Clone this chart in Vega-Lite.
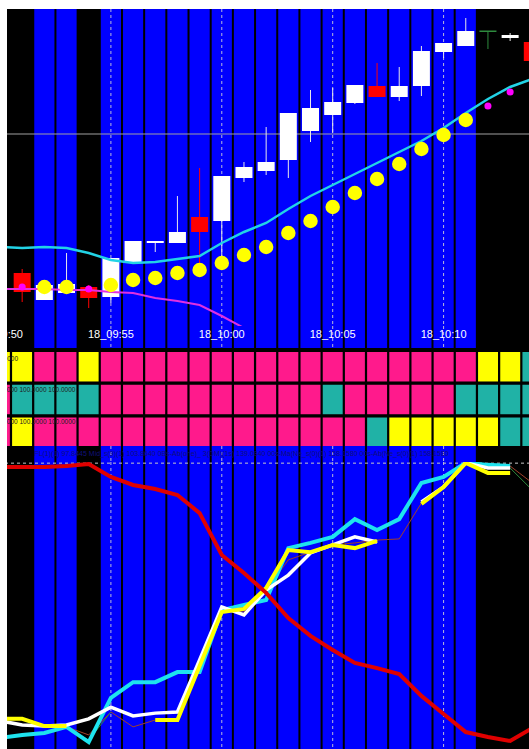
{
  "$schema": "https://vega.github.io/schema/vega-lite/v6.json",
  "background": "white",
  "padding": {"left": 6, "top": 9, "right": 0, "bottom": 0},
  "spacing": 0,
  "resolve": {"scale": {"color": "independent", "size": "independent"}},
  "config": {
    "view": {"stroke": null, "fill": "#000000"},
    "axis": {"disable": true},
    "legend": {"disable": true},
    "text": {"font": "Liberation Sans"}
  },
  "datasets": {
    "cols": [
      {"t":0,"bg":"black"},{"t":1,"bg":"black"},{"t":2,"bg":"blue"},{"t":3,"bg":"blue"},{"t":4,"bg":"black"},
      {"t":5,"bg":"blue"},{"t":6,"bg":"blue"},{"t":7,"bg":"blue"},{"t":8,"bg":"blue"},{"t":9,"bg":"blue"},
      {"t":10,"bg":"blue"},{"t":11,"bg":"blue"},{"t":12,"bg":"blue"},{"t":13,"bg":"blue"},{"t":14,"bg":"blue"},
      {"t":15,"bg":"blue"},{"t":16,"bg":"blue"},{"t":17,"bg":"blue"},{"t":18,"bg":"blue"},{"t":19,"bg":"blue"},
      {"t":20,"bg":"blue"},{"t":21,"bg":"blue"},{"t":22,"bg":"black"},{"t":23,"bg":"black"},{"t":24,"bg":"black"}
    ],
    "vlines": [{"t":5},{"t":10},{"t":15},{"t":20}],
    "labels": [
      {"t":0,"label":"18_09:50"},{"t":5,"label":"18_09:55"},{"t":10,"label":"18_10:00"},
      {"t":15,"label":"18_10:05"},{"t":20,"label":"18_10:10"}
    ],
    "candles": [
      {"t":1,"o":53,"h":57,"l":24,"c":34,"d":"down"},
      {"t":2,"o":26,"h":41,"l":26,"c":41,"d":"up"},
      {"t":3,"o":33,"h":73,"l":33,"c":42,"d":"up"},
      {"t":4,"o":39,"h":41,"l":18,"c":28,"d":"down"},
      {"t":5,"o":29,"h":68,"l":23,"c":68,"d":"up"},
      {"t":6,"o":64,"h":85,"l":64,"c":85,"d":"up"},
      {"t":7,"o":83,"h":85,"l":74,"c":85,"d":"up"},
      {"t":8,"o":83,"h":130,"l":83,"c":94,"d":"up"},
      {"t":9,"o":109,"h":158,"l":59,"c":94,"d":"down"},
      {"t":10,"o":105,"h":150,"l":69,"c":150,"d":"up"},
      {"t":11,"o":148,"h":164,"l":144,"c":159,"d":"up"},
      {"t":12,"o":155,"h":199,"l":151,"c":164,"d":"up"},
      {"t":13,"o":166,"h":213,"l":148,"c":213,"d":"up"},
      {"t":14,"o":195,"h":236,"l":184,"c":218,"d":"up"},
      {"t":15,"o":211,"h":238,"l":193,"c":224,"d":"up"},
      {"t":16,"o":223,"h":241,"l":222,"c":241,"d":"up"},
      {"t":17,"o":240,"h":263,"l":229,"c":229,"d":"down"},
      {"t":18,"o":229,"h":259,"l":225,"c":240,"d":"up"},
      {"t":19,"o":240,"h":280,"l":230,"c":275,"d":"up"},
      {"t":20,"o":274,"h":283,"l":268,"c":283,"d":"up"},
      {"t":21,"o":280,"h":308,"l":280,"c":295,"d":"up"},
      {"t":22,"o":294,"h":294,"l":277,"c":295.5,"d":"doji"},
      {"t":23,"o":288,"h":293,"l":285,"c":291,"d":"up"},
      {"t":24,"o":284,"h":284,"l":265,"c":265,"d":"down"}
    ],
    "dots": [
      {"t":1,"v":39,"k":"m"},{"t":2,"v":39,"k":"y"},{"t":3,"v":39,"k":"y"},{"t":4,"v":37,"k":"m"},
      {"t":5,"v":41,"k":"y"},{"t":6,"v":46,"k":"y"},{"t":7,"v":48,"k":"y"},{"t":8,"v":53,"k":"y"},
      {"t":9,"v":56,"k":"y"},{"t":10,"v":63,"k":"y"},{"t":11,"v":71,"k":"y"},{"t":12,"v":79,"k":"y"},
      {"t":13,"v":93,"k":"y"},{"t":14,"v":105,"k":"y"},{"t":15,"v":119,"k":"y"},{"t":16,"v":133,"k":"y"},
      {"t":17,"v":147,"k":"y"},{"t":18,"v":162,"k":"y"},{"t":19,"v":177,"k":"y"},{"t":20,"v":191,"k":"y"},
      {"t":21,"v":206,"k":"y"},{"t":22,"v":220,"k":"m"},{"t":23,"v":234,"k":"m"}
    ],
    "ma": [
      {"t":0,"v":79,"s":"fast"},{"t":1,"v":78,"s":"fast"},{"t":2,"v":79,"s":"fast"},{"t":3,"v":78,"s":"fast"},
      {"t":4,"v":73,"s":"fast"},{"t":5,"v":66,"s":"fast"},{"t":6,"v":63,"s":"fast"},{"t":7,"v":64,"s":"fast"},
      {"t":8,"v":67,"s":"fast"},{"t":9,"v":70,"s":"fast"},{"t":10,"v":83,"s":"fast"},{"t":11,"v":94,"s":"fast"},
      {"t":12,"v":103,"s":"fast"},{"t":13,"v":117,"s":"fast"},{"t":14,"v":130,"s":"fast"},{"t":15,"v":141,"s":"fast"},
      {"t":16,"v":152,"s":"fast"},{"t":17,"v":163,"s":"fast"},{"t":18,"v":174,"s":"fast"},{"t":19,"v":185,"s":"fast"},
      {"t":20,"v":198,"s":"fast"},{"t":21,"v":213,"s":"fast"},{"t":22,"v":227,"s":"fast"},{"t":23,"v":239,"s":"fast"},
      {"t":24,"v":247,"s":"fast"},
      {"t":0,"v":37,"s":"slow"},{"t":1,"v":37,"s":"slow"},{"t":2,"v":37,"s":"slow"},{"t":3,"v":36,"s":"slow"},
      {"t":4,"v":36,"s":"slow"},{"t":5,"v":34,"s":"slow"},{"t":6,"v":33,"s":"slow"},{"t":7,"v":28,"s":"slow"},
      {"t":8,"v":25,"s":"slow"},{"t":9,"v":21,"s":"slow"},{"t":10,"v":10,"s":"slow"},{"t":11,"v":-2,"s":"slow"},
      {"t":12,"v":-14,"s":"slow"}
    ],
    "grid": [
      {"t":0,"r":"r1","k":"Y"},{"t":1,"r":"r1","k":"Y"},{"t":2,"r":"r1","k":"P"},{"t":3,"r":"r1","k":"P"},{"t":4,"r":"r1","k":"Y"},
      {"t":5,"r":"r1","k":"P"},{"t":6,"r":"r1","k":"P"},{"t":7,"r":"r1","k":"P"},{"t":8,"r":"r1","k":"P"},{"t":9,"r":"r1","k":"P"},
      {"t":10,"r":"r1","k":"P"},{"t":11,"r":"r1","k":"P"},{"t":12,"r":"r1","k":"P"},{"t":13,"r":"r1","k":"P"},{"t":14,"r":"r1","k":"P"},
      {"t":15,"r":"r1","k":"P"},{"t":16,"r":"r1","k":"P"},{"t":17,"r":"r1","k":"P"},{"t":18,"r":"r1","k":"P"},{"t":19,"r":"r1","k":"P"},
      {"t":20,"r":"r1","k":"P"},{"t":21,"r":"r1","k":"P"},{"t":22,"r":"r1","k":"Y"},{"t":23,"r":"r1","k":"Y"},{"t":24,"r":"r1","k":"T"},
      {"t":0,"r":"r2","k":"P"},{"t":1,"r":"r2","k":"T"},{"t":2,"r":"r2","k":"T"},{"t":3,"r":"r2","k":"T"},{"t":4,"r":"r2","k":"T"},
      {"t":5,"r":"r2","k":"P"},{"t":6,"r":"r2","k":"P"},{"t":7,"r":"r2","k":"P"},{"t":8,"r":"r2","k":"P"},{"t":9,"r":"r2","k":"P"},
      {"t":10,"r":"r2","k":"P"},{"t":11,"r":"r2","k":"P"},{"t":12,"r":"r2","k":"P"},{"t":13,"r":"r2","k":"P"},{"t":14,"r":"r2","k":"P"},
      {"t":15,"r":"r2","k":"T"},{"t":16,"r":"r2","k":"P"},{"t":17,"r":"r2","k":"P"},{"t":18,"r":"r2","k":"P"},{"t":19,"r":"r2","k":"P"},
      {"t":20,"r":"r2","k":"P"},{"t":21,"r":"r2","k":"T"},{"t":22,"r":"r2","k":"T"},{"t":23,"r":"r2","k":"T"},{"t":24,"r":"r2","k":"T"},
      {"t":0,"r":"r3","k":"P"},{"t":1,"r":"r3","k":"Y"},{"t":2,"r":"r3","k":"P"},{"t":3,"r":"r3","k":"P"},{"t":4,"r":"r3","k":"P"},
      {"t":5,"r":"r3","k":"P"},{"t":6,"r":"r3","k":"P"},{"t":7,"r":"r3","k":"P"},{"t":8,"r":"r3","k":"P"},{"t":9,"r":"r3","k":"P"},
      {"t":10,"r":"r3","k":"P"},{"t":11,"r":"r3","k":"P"},{"t":12,"r":"r3","k":"P"},{"t":13,"r":"r3","k":"P"},{"t":14,"r":"r3","k":"P"},
      {"t":15,"r":"r3","k":"P"},{"t":16,"r":"r3","k":"P"},{"t":17,"r":"r3","k":"T"},{"t":18,"r":"r3","k":"Y"},{"t":19,"r":"r3","k":"Y"},
      {"t":20,"r":"r3","k":"Y"},{"t":21,"r":"r3","k":"Y"},{"t":22,"r":"r3","k":"Y"},{"t":23,"r":"r3","k":"T"},{"t":24,"r":"r3","k":"T"}
    ],
    "osc": [
      {"t":0,"v":98.3,"s":"red","g":"r"},{"t":1,"v":98.3,"s":"red","g":"r"},{"t":2,"v":98.3,"s":"red","g":"r"},{"t":3,"v":98.6,"s":"red","g":"r"},
      {"t":4,"v":99.3,"s":"red","g":"r"},{"t":5,"v":94.8,"s":"red","g":"r"},{"t":6,"v":92.0,"s":"red","g":"r"},{"t":7,"v":90.6,"s":"red","g":"r"},
      {"t":8,"v":88.5,"s":"red","g":"r"},{"t":9,"v":82.2,"s":"red","g":"r"},{"t":10,"v":67.6,"s":"red","g":"r"},{"t":11,"v":61.3,"s":"red","g":"r"},
      {"t":12,"v":54.4,"s":"red","g":"r"},{"t":13,"v":45.6,"s":"red","g":"r"},{"t":14,"v":39.4,"s":"red","g":"r"},{"t":15,"v":34.5,"s":"red","g":"r"},
      {"t":16,"v":30.0,"s":"red","g":"r"},{"t":17,"v":28.2,"s":"red","g":"r"},{"t":18,"v":26.1,"s":"red","g":"r"},{"t":19,"v":18.5,"s":"red","g":"r"},
      {"t":20,"v":12.2,"s":"red","g":"r"},{"t":21,"v":5.9,"s":"red","g":"r"},{"t":22,"v":4.2,"s":"red","g":"r"},{"t":23,"v":2.8,"s":"red","g":"r"},
      {"t":24,"v":7.3,"s":"red","g":"r"},

      {"t":0,"v":3.8,"s":"cyan","g":"c"},{"t":1,"v":4.9,"s":"cyan","g":"c"},{"t":2,"v":5.6,"s":"cyan","g":"c"},{"t":3,"v":7.7,"s":"cyan","g":"c"},
      {"t":4,"v":2.4,"s":"cyan","g":"c"},{"t":5,"v":17.8,"s":"cyan","g":"c"},{"t":6,"v":23.3,"s":"cyan","g":"c"},{"t":7,"v":23.3,"s":"cyan","g":"c"},
      {"t":8,"v":26.8,"s":"cyan","g":"c"},{"t":9,"v":26.8,"s":"cyan","g":"c"},{"t":10,"v":48.4,"s":"cyan","g":"c"},{"t":11,"v":50.2,"s":"cyan","g":"c"},
      {"t":12,"v":51.9,"s":"cyan","g":"c"},{"t":13,"v":70.0,"s":"cyan","g":"c"},{"t":14,"v":71.8,"s":"cyan","g":"c"},{"t":15,"v":73.9,"s":"cyan","g":"c"},
      {"t":16,"v":80.1,"s":"cyan","g":"c"},{"t":17,"v":76.3,"s":"cyan","g":"c"},{"t":18,"v":80.1,"s":"cyan","g":"c"},{"t":19,"v":92.7,"s":"cyan","g":"c"},
      {"t":20,"v":94.8,"s":"cyan","g":"c"},{"t":21,"v":99.7,"s":"cyan","g":"c"},{"t":22,"v":99.0,"s":"cyan","g":"c"},{"t":23,"v":98.6,"s":"cyan","g":"c"},

      {"t":0,"v":9.8,"s":"white","g":"w1"},{"t":1,"v":8.4,"s":"white","g":"w1"},{"t":2,"v":8.0,"s":"white","g":"w1"},{"t":3,"v":8.4,"s":"white","g":"w1"},
      {"t":4,"v":10.5,"s":"white","g":"w1"},{"t":5,"v":14.6,"s":"white","g":"w1"},{"t":6,"v":11.5,"s":"white","g":"w1"},{"t":7,"v":12.5,"s":"white","g":"w1"},
      {"t":8,"v":12.9,"s":"white","g":"w1"},{"t":9,"v":31.0,"s":"white","g":"w1"},{"t":10,"v":49.5,"s":"white","g":"w1"},{"t":11,"v":46.7,"s":"white","g":"w1"},
      {"t":12,"v":55.4,"s":"white","g":"w1"},{"t":13,"v":60.6,"s":"white","g":"w1"},{"t":14,"v":68.3,"s":"white","g":"w1"},{"t":15,"v":71.1,"s":"white","g":"w1"},
      {"t":16,"v":73.9,"s":"white","g":"w1"},{"t":17,"v":72.1,"s":"white","g":"w1"},
      {"t":19,"v":86.1,"s":"white","g":"w2"},{"t":20,"v":91.3,"s":"white","g":"w2"},{"t":21,"v":99.7,"s":"white","g":"w2"},{"t":22,"v":97.9,"s":"white","g":"w2"},
      {"t":23,"v":97.9,"s":"white","g":"w2"},

      {"t":0,"v":10.5,"s":"yellow","g":"y1"},{"t":1,"v":10.5,"s":"yellow","g":"y1"},{"t":2,"v":8.0,"s":"yellow","g":"y1"},{"t":3,"v":8.0,"s":"yellow","g":"y1"},
      {"t":7,"v":10.1,"s":"yellow","g":"y2"},{"t":8,"v":10.1,"s":"yellow","g":"y2"},{"t":9,"v":28.9,"s":"yellow","g":"y2"},{"t":10,"v":47.7,"s":"yellow","g":"y2"},
      {"t":11,"v":48.8,"s":"yellow","g":"y2"},{"t":12,"v":56.1,"s":"yellow","g":"y2"},{"t":13,"v":69.3,"s":"yellow","g":"y2"},{"t":14,"v":68.6,"s":"yellow","g":"y2"},
      {"t":15,"v":71.1,"s":"yellow","g":"y2"},{"t":16,"v":70.0,"s":"yellow","g":"y2"},{"t":17,"v":72.5,"s":"yellow","g":"y2"},
      {"t":19,"v":85.4,"s":"yellow","g":"y3"},{"t":20,"v":91.3,"s":"yellow","g":"y3"},{"t":21,"v":99.7,"s":"yellow","g":"y3"},{"t":22,"v":96.2,"s":"yellow","g":"y3"},
      {"t":23,"v":96.2,"s":"yellow","g":"y3"},

      {"t":2,"v":8.0,"s":"brown","g":"b"},{"t":3,"v":7.7,"s":"brown","g":"b"},{"t":4,"v":4.9,"s":"brown","g":"b"},{"t":5,"v":12.9,"s":"brown","g":"b"},
      {"t":6,"v":7.7,"s":"brown","g":"b"},{"t":7,"v":10.1,"s":"brown","g":"b"},{"t":8,"v":10.5,"s":"brown","g":"b"},{"t":9,"v":28.9,"s":"brown","g":"b"},
      {"t":10,"v":48.4,"s":"brown","g":"b"},{"t":11,"v":47.7,"s":"brown","g":"b"},{"t":12,"v":55.4,"s":"brown","g":"b"},{"t":13,"v":65.9,"s":"brown","g":"b"},
      {"t":14,"v":68.6,"s":"brown","g":"b"},{"t":15,"v":71.1,"s":"brown","g":"b"},{"t":16,"v":71.8,"s":"brown","g":"b"},{"t":17,"v":72.8,"s":"brown","g":"b"},
      {"t":18,"v":73.2,"s":"brown","g":"b"},{"t":19,"v":85.7,"s":"brown","g":"b"},{"t":20,"v":91.3,"s":"brown","g":"b"},{"t":21,"v":99.7,"s":"brown","g":"b"},
      {"t":22,"v":98.6,"s":"brown","g":"b"},{"t":23,"v":98.6,"s":"brown","g":"b"},{"t":24,"v":92.7,"s":"brown","g":"b"},

      {"t":2,"v":8.0,"s":"green","g":"g1"},{"t":3,"v":7.7,"s":"green","g":"g1"},{"t":4,"v":3.1,"s":"green","g":"g1"},{"t":5,"v":12.9,"s":"green","g":"g1"},
      {"t":21,"v":99.7,"s":"green","g":"g2"},{"t":22,"v":98.3,"s":"green","g":"g2"},{"t":23,"v":97.9,"s":"green","g":"g2"},{"t":24,"v":90.2,"s":"green","g":"g2"}
    ]
  },
  "vconcat": [
    {
      "width": 523,
      "height": 317,
      "resolve": {"scale": {"color": "independent", "size": "independent"}},
      "layer": [
        {
          "data": {"name": "cols"},
          "mark": {"type": "rect", "clip": true},
          "encoding": {
            "x": {"field": "t", "type": "ordinal", "scale": {"type": "band", "domain": [0,1,2,3,4,5,6,7,8,9,10,11,12,13,14,15,16,17,18,19,20,21,22,23,24], "range": [-17.1, 535.4], "paddingInner": 0.09, "paddingOuter": 0}},
            "color": {"field": "bg", "type": "nominal", "scale": {"domain": ["blue", "black"], "range": ["#0000ff", "#000000"]}}
          }
        },
        {
          "data": {"name": "vlines"},
          "mark": {"type": "rule", "color": "#b8b8d8", "strokeDash": [3, 3], "strokeWidth": 1, "clip": true},
          "encoding": {"x": {"field": "t", "type": "ordinal"}}
        },
        {
          "data": {"values": [{"lvl": 192}]},
          "mark": {"type": "rule", "color": "#a0a0a0", "strokeWidth": 1},
          "encoding": {"y": {"field": "lvl", "type": "quantitative", "scale": {"domain": [0, 317], "nice": false, "zero": false}}}
        },
        {
          "data": {"name": "candles"},
          "mark": {"type": "rule", "strokeWidth": 1, "clip": true},
          "encoding": {
            "x": {"field": "t", "type": "ordinal"},
            "y": {"field": "h", "type": "quantitative"},
            "y2": {"field": "l"},
            "color": {"field": "d", "type": "nominal", "scale": {"domain": ["up", "down", "doji"], "range": ["#e8e8e8", "#ff0000", "#2e8b3e"]}}
          }
        },
        {
          "data": {"name": "candles"},
          "mark": {"type": "bar", "size": 17, "clip": true},
          "encoding": {
            "x": {"field": "t", "type": "ordinal"},
            "y": {"field": "o", "type": "quantitative"},
            "y2": {"field": "c"},
            "color": {"field": "d", "type": "nominal", "scale": {"domain": ["up", "down", "doji"], "range": ["#ffffff", "#ff0000", "#2e8b3e"]}}
          }
        },
        {
          "data": {"name": "ma"},
          "transform": [{"filter": "datum.s === 'slow'"}],
          "mark": {"type": "line", "color": "#e030e0", "strokeWidth": 2, "clip": true},
          "encoding": {
            "x": {"field": "t", "type": "ordinal"},
            "y": {"field": "v", "type": "quantitative"}
          }
        },
        {
          "data": {"name": "ma"},
          "transform": [{"filter": "datum.s === 'fast'"}],
          "mark": {"type": "line", "color": "#22d3e6", "strokeWidth": 2.5, "clip": true},
          "encoding": {
            "x": {"field": "t", "type": "ordinal"},
            "y": {"field": "v", "type": "quantitative"}
          }
        },
        {
          "data": {"name": "dots"},
          "mark": {"type": "circle", "opacity": 1, "clip": true},
          "encoding": {
            "x": {"field": "t", "type": "ordinal"},
            "y": {"field": "v", "type": "quantitative"},
            "color": {"field": "k", "type": "nominal", "scale": {"domain": ["y", "m"], "range": ["#ffff00", "#ff00ff"]}},
            "size": {"field": "k", "type": "nominal", "scale": {"domain": ["y", "m"], "range": [210, 50]}}
          }
        }
      ]
    },
    {
      "width": 523,
      "height": 22,
      "layer": [
        {
          "data": {"name": "cols"},
          "mark": {"type": "rect", "clip": true},
          "encoding": {
            "x": {"field": "t", "type": "ordinal", "scale": {"type": "band", "domain": [0,1,2,3,4,5,6,7,8,9,10,11,12,13,14,15,16,17,18,19,20,21,22,23,24], "range": [-17.1, 535.4], "paddingInner": 0.09, "paddingOuter": 0}},
            "color": {"field": "bg", "type": "nominal", "scale": {"domain": ["blue", "black"], "range": ["#0000ff", "#000000"]}}
          }
        },
        {
          "data": {"name": "vlines"},
          "mark": {"type": "rule", "color": "#b8b8d8", "strokeDash": [3, 3], "strokeWidth": 1, "clip": true},
          "encoding": {"x": {"field": "t", "type": "ordinal"}}
        },
        {
          "data": {"name": "labels"},
          "mark": {"type": "text", "color": "#ffffff", "fontSize": 11, "clip": true, "dy": -2},
          "encoding": {
            "x": {"field": "t", "type": "ordinal"},
            "text": {"field": "label"}
          }
        }
      ]
    },
    {
      "width": 523,
      "height": 98,
      "layer": [
        {
          "data": {"name": "grid"},
          "mark": {"type": "rect", "clip": true},
          "encoding": {
            "x": {"field": "t", "type": "ordinal", "scale": {"type": "band", "domain": [0,1,2,3,4,5,6,7,8,9,10,11,12,13,14,15,16,17,18,19,20,21,22,23,24], "range": [-17.1, 535.4], "paddingInner": 0.1, "paddingOuter": 0}},
            "y": {"field": "r", "type": "ordinal", "scale": {"type": "band", "domain": ["r1", "r2", "r3"], "range": [4, 99], "paddingInner": 0.1, "paddingOuter": 0}},
            "color": {"field": "k", "type": "nominal", "scale": {"domain": ["P", "Y", "T"], "range": ["#ff1a8c", "#ffff00", "#20b2a6"]}}
          }
        },
        {
          "data": {"values": [{"r": "r1", "txt": "100.0000"}]},
          "mark": {"type": "text", "fontSize": 6.5, "color": "#202020", "align": "right", "dx": -4, "dy": -8, "clip": true},
          "encoding": {
            "x": {"datum": 1, "type": "ordinal"},
            "y": {"field": "r", "type": "ordinal"},
            "text": {"field": "txt"}
          }
        },
        {
          "data": {"values": [{"r": "r2", "txt": "100.0000 100.0000 100.0000"}, {"r": "r3", "txt": "100.0000 100.0000 100.0000"}]},
          "mark": {"type": "text", "fontSize": 6.5, "color": "#202020", "align": "right", "dx": 9, "dy": -10, "clip": true},
          "encoding": {
            "x": {"datum": 3, "type": "ordinal"},
            "y": {"field": "r", "type": "ordinal"},
            "text": {"field": "txt"}
          }
        }
      ]
    },
    {
      "width": 523,
      "height": 16,
      "layer": [
        {
          "data": {"name": "cols"},
          "mark": {"type": "rect", "clip": true},
          "encoding": {
            "x": {"field": "t", "type": "ordinal", "scale": {"type": "band", "domain": [0,1,2,3,4,5,6,7,8,9,10,11,12,13,14,15,16,17,18,19,20,21,22,23,24], "range": [-17.1, 535.4], "paddingInner": 0.09, "paddingOuter": 0}},
            "color": {"field": "bg", "type": "nominal", "scale": {"domain": ["blue", "black"], "range": ["#0000ff", "#000000"]}}
          }
        },
        {
          "data": {"name": "vlines"},
          "mark": {"type": "rule", "color": "#b8b8d8", "strokeDash": [3, 3], "strokeWidth": 1, "clip": true},
          "encoding": {"x": {"field": "t", "type": "ordinal"}}
        },
        {
          "data": {"values": [{"txt": "FL(1)(1) 97.8445    Mid_s(9)(1) 103.8640    0Bs-Ab(one)_ 3(DM)(1s) 139.0840    00s-Ma(Ne_s(0)(1) 158.1580    00s-Ab(Ne_s(0)(1) 158.1580"}]},
          "mark": {"type": "text", "fontSize": 7, "color": "#10107a", "align": "left", "dx": -10, "clip": true},
          "encoding": {
            "x": {"datum": 2, "type": "ordinal"},
            "text": {"field": "txt"}
          }
        }
      ]
    },
    {
      "width": 523,
      "height": 287,
      "layer": [
        {
          "data": {"name": "cols"},
          "mark": {"type": "rect", "clip": true},
          "encoding": {
            "x": {"field": "t", "type": "ordinal", "scale": {"type": "band", "domain": [0,1,2,3,4,5,6,7,8,9,10,11,12,13,14,15,16,17,18,19,20,21,22,23,24], "range": [-17.1, 535.4], "paddingInner": 0.09, "paddingOuter": 0}},
            "color": {"field": "bg", "type": "nominal", "scale": {"domain": ["blue", "black"], "range": ["#0000ff", "#000000"]}}
          }
        },
        {
          "data": {"name": "vlines"},
          "mark": {"type": "rule", "color": "#b8b8d8", "strokeDash": [3, 3], "strokeWidth": 1, "clip": true},
          "encoding": {"x": {"field": "t", "type": "ordinal"}}
        },
        {
          "data": {"values": [{"lvl": 99.6}]},
          "mark": {"type": "rule", "color": "#c8c8c8", "strokeDash": [3, 3], "strokeWidth": 1},
          "encoding": {"y": {"field": "lvl", "type": "quantitative", "scale": {"domain": [0, 100], "nice": false, "zero": false}}}
        },
        {
          "data": {"name": "osc"},
          "transform": [{"filter": "datum.s === 'brown'"}],
          "mark": {"type": "line", "color": "#a0402a", "strokeWidth": 1, "clip": true},
          "encoding": {"x": {"field": "t", "type": "ordinal"}, "y": {"field": "v", "type": "quantitative"}, "detail": {"field": "g"}}
        },
        {
          "data": {"name": "osc"},
          "transform": [{"filter": "datum.s === 'green'"}],
          "mark": {"type": "line", "color": "#2e8b3e", "strokeWidth": 1, "clip": true},
          "encoding": {"x": {"field": "t", "type": "ordinal"}, "y": {"field": "v", "type": "quantitative"}, "detail": {"field": "g"}}
        },
        {
          "data": {"name": "osc"},
          "transform": [{"filter": "datum.s === 'cyan'"}],
          "mark": {"type": "line", "color": "#1ee3ee", "strokeWidth": 4, "clip": true},
          "encoding": {"x": {"field": "t", "type": "ordinal"}, "y": {"field": "v", "type": "quantitative"}, "detail": {"field": "g"}}
        },
        {
          "data": {"name": "osc"},
          "transform": [{"filter": "datum.s === 'white'"}],
          "mark": {"type": "line", "color": "#ffffff", "strokeWidth": 3.5, "clip": true},
          "encoding": {"x": {"field": "t", "type": "ordinal"}, "y": {"field": "v", "type": "quantitative"}, "detail": {"field": "g"}}
        },
        {
          "data": {"name": "osc"},
          "transform": [{"filter": "datum.s === 'yellow'"}],
          "mark": {"type": "line", "color": "#ffff00", "strokeWidth": 4, "clip": true},
          "encoding": {"x": {"field": "t", "type": "ordinal"}, "y": {"field": "v", "type": "quantitative"}, "detail": {"field": "g"}}
        },
        {
          "data": {"name": "osc"},
          "transform": [{"filter": "datum.s === 'red'"}],
          "mark": {"type": "line", "color": "#e00000", "strokeWidth": 4, "clip": true},
          "encoding": {"x": {"field": "t", "type": "ordinal"}, "y": {"field": "v", "type": "quantitative"}, "detail": {"field": "g"}}
        }
      ]
    }
  ]
}
